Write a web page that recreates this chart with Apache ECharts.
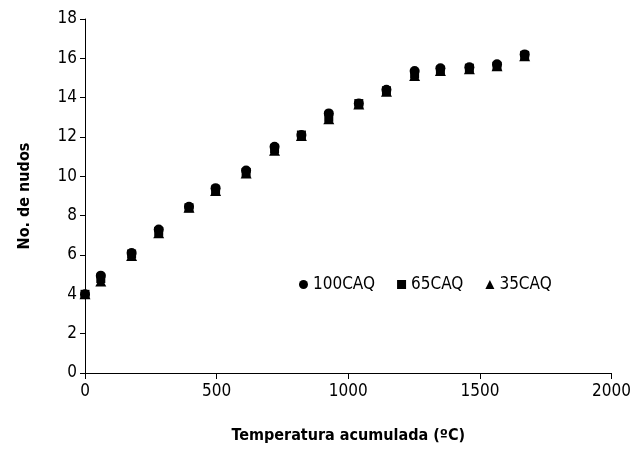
<!DOCTYPE html>
<html lang="es">
<head>
  <meta charset="UTF-8">
  <title>Nudos</title>
  <style>
    body { margin: 0; background: #fff; }
    #main { width: 634px; height: 449px; }
  </style>
</head>
<body>
  <div id="main"></div>
  <script src="https://cdn.jsdelivr.net/npm/echarts@6/dist/echarts.min.js"></script>
  <script type="text/javascript">
    var temp = [0, 60, 177, 280, 395, 496, 612, 720, 822, 926, 1040, 1145, 1252, 1350, 1460, 1565, 1670];
    var caq100 = [4.0, 4.95, 6.1, 7.3, 8.45, 9.4, 10.3, 11.5, 12.1, 13.2, 13.7, 14.4, 15.35, 15.5, 15.55, 15.7, 16.2];
    var caq65 = [4.0, 4.8, 6.05, 7.2, 8.4, 9.3, 10.2, 11.4, 12.1, 13.0, 13.7, 14.35, 15.2, 15.4, 15.5, 15.6, 16.15];
    var caq35 = [4.0, 4.65, 5.95, 7.1, 8.4, 9.25, 10.15, 11.3, 12.05, 12.9, 13.65, 14.3, 15.1, 15.35, 15.45, 15.6, 16.1];

    var font = '"Liberation Sans Narrow", "DejaVu Sans Condensed", "Liberation Sans", sans-serif';

    function pairs(ys) {
      return temp.map(function (x, i) { return [x, ys[i]]; });
    }

    var myCharts = echarts.init(document.getElementById('main'));
    var option = {
      animation: false,
      textStyle: { fontFamily: font, color: '#000' },
      grid: { left: 85, right: 22, top: 19, bottom: 75 },
      legend: {
        left: 294,
        top: 271,
        itemWidth: 9,
        itemHeight: 9,
        itemGap: 22,
        textStyle: { fontFamily: font, fontSize: 17, color: '#000' },
        data: [
          { name: '100CAQ', icon: 'circle' },
          { name: '65CAQ', icon: 'rect' },
          { name: '35CAQ', icon: 'triangle' }
        ]
      },
      xAxis: {
        type: 'value',
        min: 0,
        max: 2000,
        interval: 500,
        name: 'Temperatura acumulada (ºC)',
        nameLocation: 'middle',
        nameGap: 55,
        nameTextStyle: { fontFamily: font, fontSize: 16, fontWeight: 'bold', color: '#000' },
        splitLine: { show: false },
        axisLine: { lineStyle: { color: '#000', width: 1 } },
        axisTick: { length: 6, lineStyle: { color: '#000' } },
        axisLabel: {
          fontFamily: font, fontSize: 17, color: '#000', margin: 10,
          formatter: function (v) { return String(v); }
        }
      },
      yAxis: {
        type: 'value',
        min: 0,
        max: 18,
        interval: 2,
        name: 'No. de nudos',
        nameLocation: 'middle',
        nameGap: 52,
        nameTextStyle: { fontFamily: font, fontSize: 16, fontWeight: 'bold', color: '#000' },
        splitLine: { show: false },
        axisLine: { show: true, lineStyle: { color: '#000', width: 1 } },
        axisTick: { show: true, length: 5, lineStyle: { color: '#000' } },
        axisLabel: { fontFamily: font, fontSize: 17, color: '#000', margin: 8 }
      },
      series: [
        {
          name: '100CAQ', type: 'scatter', symbol: 'circle', symbolSize: 10,
          itemStyle: { color: '#000', opacity: 1 }, data: pairs(caq100)
        },
        {
          name: '65CAQ', type: 'scatter', symbol: 'rect', symbolSize: 9,
          itemStyle: { color: '#000', opacity: 1 }, data: pairs(caq65)
        },
        {
          name: '35CAQ', type: 'scatter', symbol: 'triangle', symbolSize: [11, 10],
          itemStyle: { color: '#000', opacity: 1 }, data: pairs(caq35)
        }
      ]
    };
    myCharts.setOption(option);
  </script>
</body>
</html>
